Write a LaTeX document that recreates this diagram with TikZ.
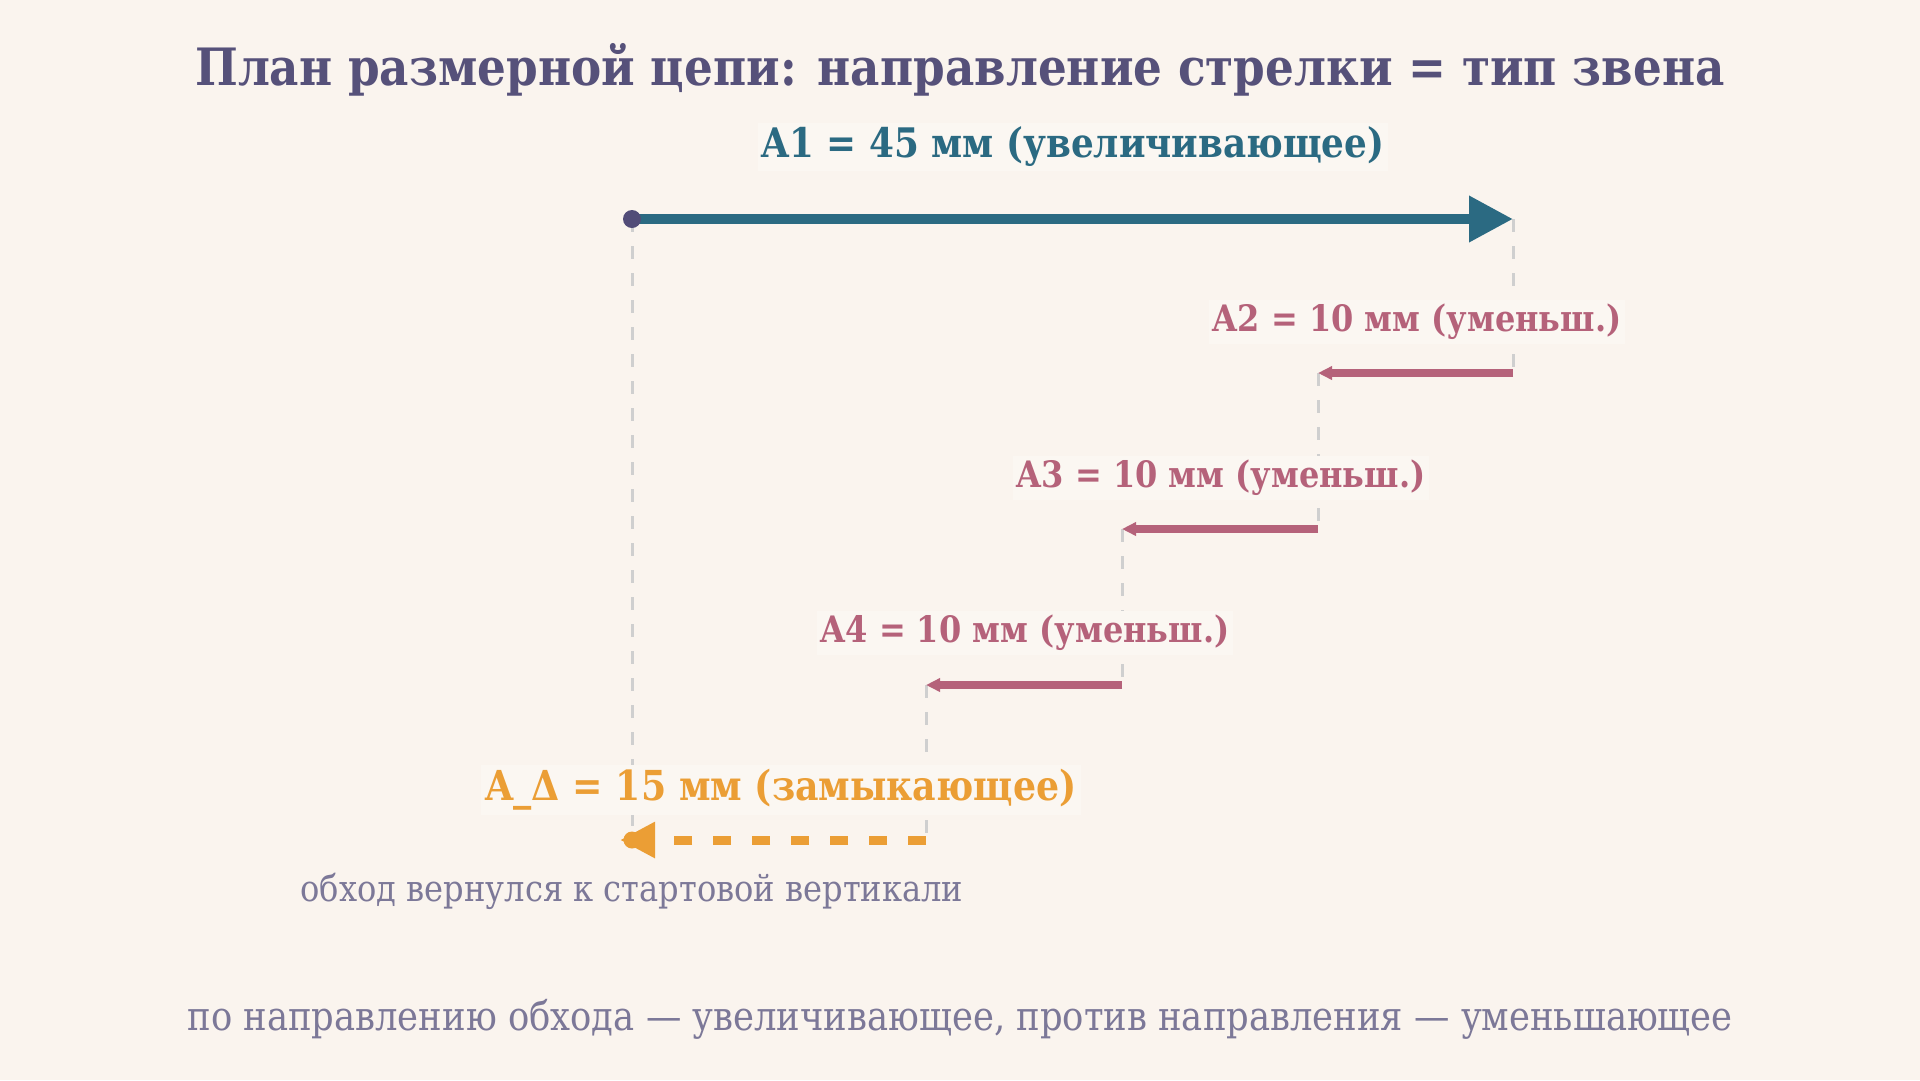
\documentclass[tikz,border=0pt]{standalone}
\usepackage{fontspec}
\setmainfont[FakeStretch=0.88]{DejaVu Serif}
\usetikzlibrary{arrows.meta}
\definecolor{bgc}{HTML}{FAF4EE}
\definecolor{boxc}{HTML}{FBF7F2}
\definecolor{titlec}{HTML}{56517A}
\definecolor{a1c}{HTML}{2B6A82}
\definecolor{pkc}{HTML}{B5627A}
\definecolor{orc}{HTML}{EB9E35}
\definecolor{notec}{HTML}{7C7898}
\definecolor{guidec}{HTML}{CFCFCF}
\definecolor{dotc}{HTML}{524C78}
\begin{document}
\begin{tikzpicture}[x=1pt,y=-1pt,
  lbl/.style={fill=boxc, inner sep=4pt, font=\bfseries\fontsize{36.4}{42}\selectfont},
  guide/.style={draw=guidec, line width=3pt, dash pattern=on 13pt off 14pt},
  pt/.style={circle, inner sep=0pt, minimum size=18pt}]
\fill[bgc] (0,0) rectangle (1920,1080);
\useasboundingbox (0,0) rectangle (1920,1080);

% chain points
\coordinate (a) at (632,219);
\coordinate (b) at (1513,219);
\coordinate (b2) at (1513,373);
\coordinate (c) at (1318,373);
\coordinate (c2) at (1318,529);
\coordinate (d) at (1122,529);
\coordinate (d2) at (1122,685);
\coordinate (e) at (926,685);
\coordinate (e2) at (926,840);
\coordinate (f) at (632,840);

% guides
\path[guide] (a) -- (f);
\path[guide] (b) -- (b2);
\path[guide] (c) -- (c2);
\path[guide] (d) -- (d2);
\path[guide] (e) -- (e2);

\node[text=titlec, font=\bfseries\fontsize{51.5}{60}\selectfont] (title) at (960,70) {План размерной цепи: направление стрелки = тип звена};
\node[lbl, text=a1c, font=\bfseries\fontsize{40.7}{48}\selectfont] (A1) at (1073,147) {A1 = 45 мм (увеличивающее)};
\node[lbl, text=pkc] (A2) at (1417,322) {A2 = 10 мм (уменьш.)};
\node[lbl, text=pkc] (A3) at (1221,478) {A3 = 10 мм (уменьш.)};
\node[lbl, text=pkc] (A4) at (1025,633) {A4 = 10 мм (уменьш.)};
\node[lbl, text=orc, font=\bfseries\fontsize{41.3}{48}\selectfont] (AD) at (781,790) {A\_Δ = 15 мм (замыкающее)};

\path[draw=a1c, line width=10pt, -{Triangle[length=44pt,width=44pt]}] (a) -- (b);
\path[draw=pkc, line width=8pt, -{Triangle[length=14pt,width=13pt]}] (b2) -- (c);
\path[draw=pkc, line width=8pt, -{Triangle[length=14pt,width=13pt]}] (c2) -- (d);
\path[draw=pkc, line width=8pt, -{Triangle[length=14pt,width=13pt]}] (d2) -- (e);
\path[draw=orc, line width=9pt, dash pattern=on 18pt off 21pt, -{Triangle[length=35pt,width=34pt]}, shorten >=-12pt] (e2) -- (f);

\node[pt, fill=dotc] (start) at (a) {};
\node[pt, fill=orc, minimum size=17pt] (end) at (f) {};

\node[text=notec, font=\fontsize{36.5}{42}\selectfont] (note) at (632,891) {обход вернулся к стартовой вертикали};
\node[text=notec, font=\fontsize{40.2}{46}\selectfont] (foot) at (960,1019) {по направлению обхода — увеличивающее, против направления — уменьшающее};
\end{tikzpicture}
\end{document}
